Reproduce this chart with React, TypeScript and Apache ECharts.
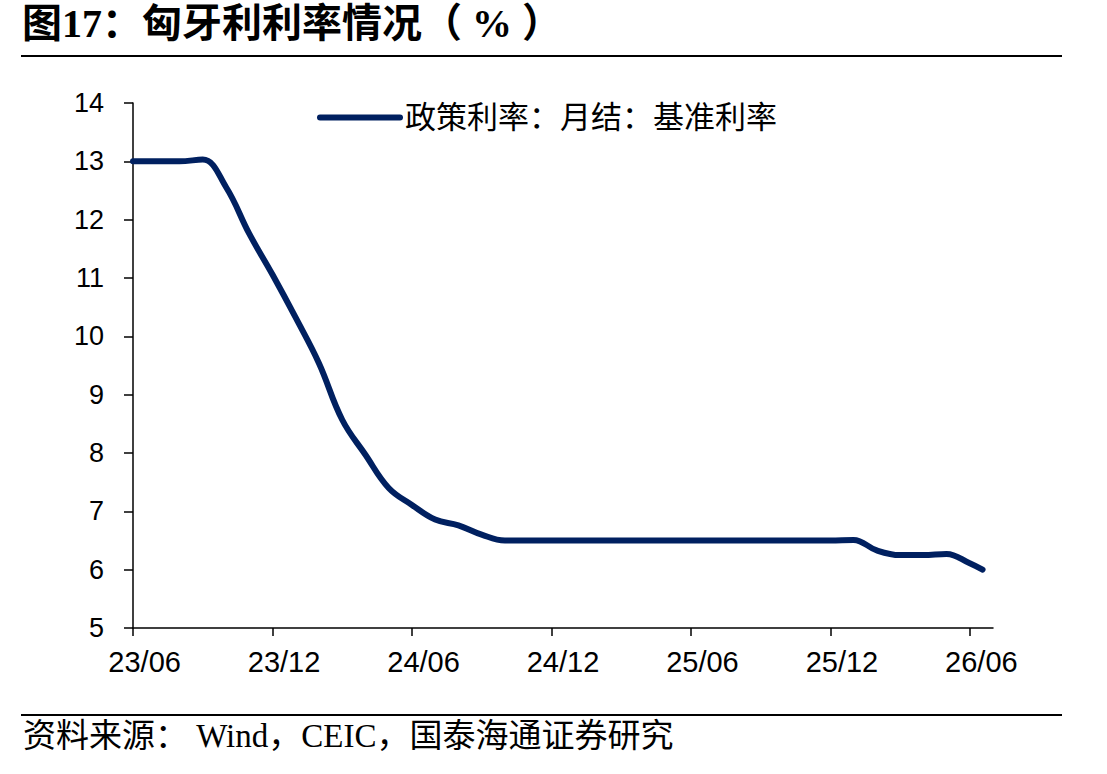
import React, { useEffect, useRef } from "react";
import * as echarts from "echarts";

// Month index 0 = 2023/06
const tickLabels = ["23/06", "23/12", "24/06", "24/12", "25/06", "25/12", "26/06"];
const tickMonths = [0, 6, 12, 18, 24, 30, 36];
const monthIdx = [
  0, 1, 2, 3, 4, 5, 6, 7, 8, 9, 10, 11, 12, 13, 14, 15, 16, 17, 18, 19, 20,
  21, 22, 23, 24, 25, 26, 27, 28, 29, 30, 31, 32, 33, 34, 35, 36, 36.55,
];
const baseRate = [
  13, 13, 13, 13.03, 12.56, 11.76, 11.06, 10.32, 9.54, 8.57, 7.97, 7.4, 7.11,
  6.86, 6.76, 6.6, 6.5, 6.5, 6.5, 6.5, 6.5, 6.5, 6.5, 6.5, 6.5, 6.5, 6.5,
  6.5, 6.5, 6.5, 6.5, 6.51, 6.33, 6.25, 6.25, 6.27, 6.11, 6.0,
];
const seriesName = "政策利率：月结：基准利率";
const titleText = "图17：匈牙利利率情况（ % ）";
const sourceText = "资料来源： Wind，CEIC，国泰海通证券研究";

export default function App() {
  const ref = useRef<HTMLDivElement>(null);
  useEffect(() => {
    if (!ref.current) return;
    const chart = echarts.init(ref.current, undefined, { renderer: "svg" });
    const sans = "'Liberation Sans', Arial, sans-serif";
    const serif = "'Liberation Serif', 'Times New Roman', 'Noto Sans CJK SC', serif";
    chart.setOption({
      animation: false,
      backgroundColor: "#ffffff",
      grid: { left: 133, right: 114, top: 103, bottom: 146, containLabel: false },
      legend: {
        data: [seriesName],
        left: 312,
        top: 97,
        itemWidth: 80,
        itemHeight: 30,
        itemGap: 0,
        itemStyle: { opacity: 0 },
        lineStyle: { width: 6, cap: "round" },
        textStyle: { fontSize: 31, color: "#000", fontFamily: serif, padding: [6, 0, 0, 0] },
      },
      xAxis: {
        type: "value",
        min: 0,
        max: 37,
        interval: 6,
        splitLine: { show: false },
        axisLine: { show: true, lineStyle: { color: "#000", width: 1.5 } },
        axisTick: {
          show: true,
          length: 8,
          customValues: tickMonths,
          lineStyle: { color: "#000", width: 1.5 },
        },
        axisLabel: {
          customValues: tickMonths.map((m) => m + 0.5),
          formatter: (v: number) => tickLabels[Math.round((v - 0.5) / 6)] ?? "",
          fontSize: 29,
          color: "#000",
          fontFamily: sans,
          margin: 19,
        },
      },
      yAxis: {
        type: "value",
        min: 5,
        max: 14,
        interval: 1,
        splitLine: { show: false },
        axisLine: { show: true, lineStyle: { color: "#000", width: 1.5 } },
        axisTick: { show: true, length: 9, lineStyle: { color: "#000", width: 1.5 } },
        axisLabel: { fontSize: 27, color: "#000", fontFamily: sans, margin: 29 },
      },
      series: [
        {
          name: seriesName,
          type: "line",
          data: monthIdx.map((m, i) => [m, baseRate[i]]),
          smooth: 0.4,
          symbol: "none",
          showSymbol: false,
          lineStyle: { color: "#002060", width: 6, cap: "round", join: "round" },
          itemStyle: { color: "#002060" },
        },
      ],
      graphic: [
        {
          type: "text",
          left: 22,
          top: 3,
          style: {
            text: titleText,
            fontSize: 40,
            fontWeight: "bold",
            fontFamily: serif,
            fill: "#000",
          },
        },
        {
          type: "line",
          shape: { x1: 21, y1: 56, x2: 1062, y2: 56 },
          style: { stroke: "#000", lineWidth: 2 },
        },
        {
          type: "line",
          shape: { x1: 21, y1: 715, x2: 1062, y2: 715 },
          style: { stroke: "#000", lineWidth: 2 },
        },
        {
          type: "text",
          left: 23,
          top: 719,
          style: {
            text: sourceText,
            fontSize: 33,
            fontFamily: serif,
            fill: "#000",
          },
        },
      ],
    });
    return () => chart.dispose();
  }, []);
  return (
    <div
      ref={ref}
      style={{ position: "absolute", left: 0, top: 0, width: 1107, height: 774 }}
    />
  );
}
